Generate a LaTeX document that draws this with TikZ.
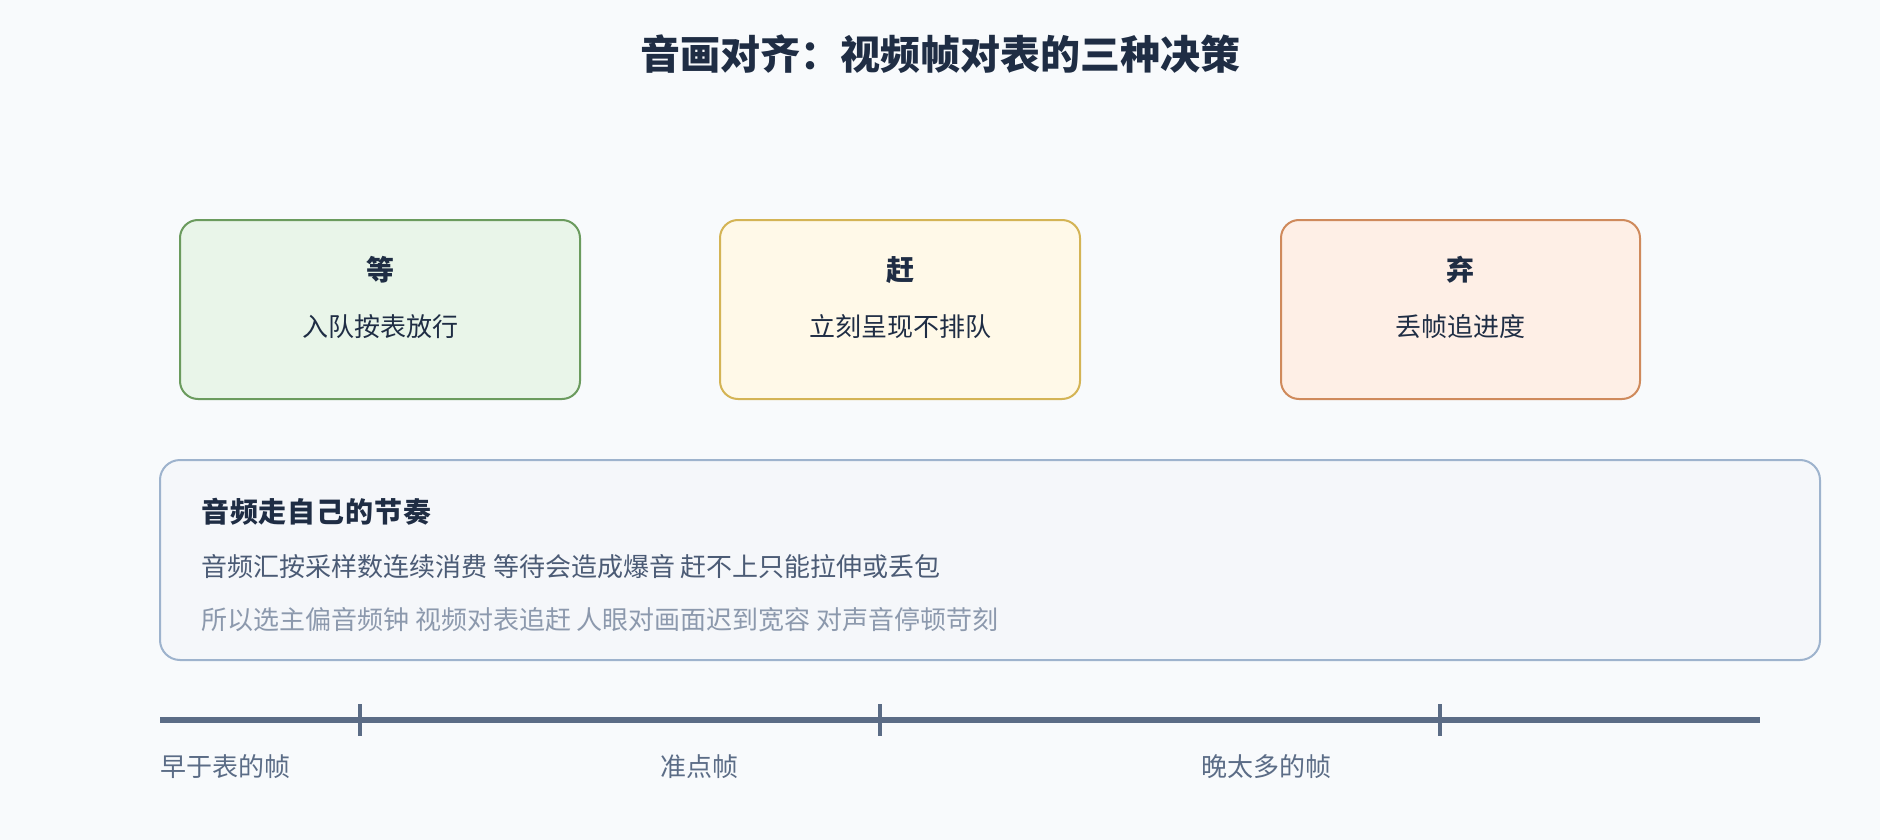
\documentclass[tikz,border=0pt]{standalone}
\usepackage{fontspec}
\setmainfont{Noto Sans CJK SC}
\definecolor{bgc}{HTML}{F8FAFC}
\definecolor{ink}{HTML}{1F2D44}
\definecolor{greenfill}{HTML}{E9F5E9}
\definecolor{greenline}{HTML}{6B9B5E}
\definecolor{yellowfill}{HTML}{FFF9E8}
\definecolor{yellowline}{HTML}{D4B455}
\definecolor{orangefill}{HTML}{FEEFE6}
\definecolor{orangeline}{HTML}{CF8A5C}
\definecolor{panelfill}{HTML}{F5F7FA}
\definecolor{panelline}{HTML}{9EB3CD}
\definecolor{bodyc}{HTML}{4B5B75}
\definecolor{softc}{HTML}{8C99AD}
\definecolor{axisc}{HTML}{5B6C86}
\tikzset{
  card/.style={draw, line width=2pt, rounded corners=18pt},
  cardtitle/.style={inner sep=0pt, text=ink, font=\fontsize{28}{32}\selectfont\bfseries},
  cardtext/.style={inner sep=0pt, text=ink, font=\fontsize{26}{30}\selectfont},
  paneltext/.style={inner sep=0pt, anchor=west, font=\fontsize{26}{30}\selectfont},
  axislabel/.style={inner sep=0pt, anchor=west, text=axisc, font=\fontsize{26}{30}\selectfont},
  axisline/.style={draw=axisc, line width=6pt},
  ticklink/.style={draw=axisc, line width=3.5pt}
}
\begin{document}
\begin{tikzpicture}[x=1pt, y=-1pt]
\fill[bgc] (0,0) rectangle (1880,840);
\useasboundingbox (0,0) rectangle (1880,840);

\node[inner sep=0pt, text=ink, font=\fontsize{40}{44}\selectfont\bfseries] (title) at (940,54) {音画对齐：视频帧对表的三种决策};

% cards
\draw[card, fill=greenfill, draw=greenline] (180,220) rectangle (580,399);
\node[cardtitle] (wait) at (380,270) {等};
\node[cardtext] (waitd) at (380,327) {入队按表放行};

\draw[card, fill=yellowfill, draw=yellowline] (720,220) rectangle (1080,399);
\node[cardtitle] (rush) at (900,270) {赶};
\node[cardtext] (rushd) at (900,327) {立刻呈现不排队};

\draw[card, fill=orangefill, draw=orangeline] (1281,220) rectangle (1640,399);
\node[cardtitle] (drop) at (1460,270) {弃};
\node[cardtext] (dropd) at (1460,327) {丢帧追进度};

% panel
\draw[line width=2pt, rounded corners=20pt, fill=panelfill, draw=panelline] (160,460) rectangle (1820,660);
\node[paneltext, text=ink, font=\fontsize{28}{32}\selectfont\bfseries\addfontfeatures{LetterSpace=3}] (ptitle) at (201,512) {音频走自己的节奏};
\node[paneltext, text=bodyc] (pline1) at (201,567) {音频汇按采样数连续消费 等待会造成爆音 赶不上只能拉伸或丢包};
\node[paneltext, text=softc] (pline2) at (201,620) {所以选主偏音频钟 视频对表追赶 人眼对画面迟到宽容 对声音停顿苛刻};

% axis
\coordinate (axL) at (160,720);
\coordinate (axR) at (1760,720);
\draw[axisline] (axL) -- (axR);
\coordinate (t1a) at (360,704); \coordinate (t1b) at (360,736);
\coordinate (t2a) at (880,704); \coordinate (t2b) at (880,736);
\coordinate (t3a) at (1440,704); \coordinate (t3b) at (1440,736);
\draw[ticklink] (t1a) -- (t1b);
\draw[ticklink] (t2a) -- (t2b);
\draw[ticklink] (t3a) -- (t3b);

\node[axislabel] (early) at (160,767) {早于表的帧};
\node[axislabel] (ontime) at (660,767) {准点帧};
\node[axislabel] (late) at (1201,767) {晚太多的帧};
\end{tikzpicture}
\end{document}
